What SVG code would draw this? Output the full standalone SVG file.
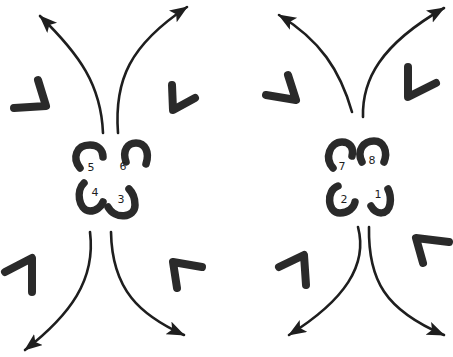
<svg xmlns="http://www.w3.org/2000/svg" width="453" height="357" viewBox="0 0 453 357">
<style>
.arr{fill:none;stroke:#1e1e1e;stroke-width:2.6;stroke-linecap:round;marker-end:url(#ah)}
.chev{fill:none;stroke:#2a2a2a;stroke-width:8;stroke-linecap:round;stroke-linejoin:round}
.sym{fill:none;stroke:#2a2a2a;stroke-width:7.5;stroke-linecap:round}
.lbl{font-family:"DejaVu Sans",sans-serif;font-size:11px;fill:#1e1e1e;text-anchor:middle}
</style>
<defs>
<marker id="ah" markerUnits="userSpaceOnUse" markerWidth="20" markerHeight="16" refX="17" refY="7" orient="auto">
<path d="M0,0 L18,7 L0,14 L4,7 z" fill="#1e1e1e"/>
</marker>
</defs>
<rect width="453" height="357" fill="#fff"/>
<g id="connectors">
<path class="arr" d="M103 133 C101 85 80 55 40 16"/>
<path class="arr" d="M118 133 C114 80 130 45 187 7"/>
<path class="arr" d="M90 232 C96 280 70 315 25 350"/>
<path class="arr" d="M111 232 C112 290 140 315 184 335"/>
<path class="arr" d="M352 112 C340 70 320 40 279 15"/>
<path class="arr" d="M363 117 C362 80 380 45 444 8"/>
<path class="arr" d="M358 227 C368 265 345 300 289 335"/>
<path class="arr" d="M369 227 C368 280 385 310 444 335"/>
</g>
<g id="chevrons">
<path class="chev" d="M38 80 L46 106 L14 108"/>
<path class="chev" d="M172 85 L173 110 L195 98"/>
<path class="chev" d="M5 272 L32 258 L32 292"/>
<path class="chev" d="M177 288 L173 262 L202 267"/>
<path class="chev" d="M288 75 L296 100 L266 95"/>
<path class="chev" d="M408 67 L408 97 L436 83"/>
<path class="chev" d="M279 267 L304 255 L306 285"/>
<path class="chev" d="M423 263 L416 238 L449 242"/>
</g>
<g id="n5"><path class="sym" d="M80 168 C72 158 76 145 90 145 C98 145 103 150 103 157"/><text class="lbl" x="91" y="171">5</text></g>
<g id="n6"><path class="sym" d="M126 162 C122 150 128 143 136 143 C145 143 150 152 146 164"/><text class="lbl" x="123" y="170">6</text></g>
<g id="n4"><path class="sym" d="M84 183 C76 190 78 210 90 211 C96 211 101 207 103 202"/><text class="lbl" x="95" y="196">4</text></g>
<g id="n3"><path class="sym" d="M108 207 C115 220 135 218 135 205 C135 197 132 192 129 189"/><text class="lbl" x="121" y="203">3</text></g>
<g id="n7"><path class="sym" d="M333 168 C324 158 330 142 342 142 C350 142 354 148 352 156"/><text class="lbl" x="342" y="170">7</text></g>
<g id="n8"><path class="sym" d="M362 162 C356 150 364 141 374 141 C384 141 388 152 384 162"/><text class="lbl" x="372" y="164">8</text></g>
<g id="n2"><path class="sym" d="M338 186 C326 190 327 213 340 213 C348 213 354 208 355 202"/><text class="lbl" x="344" y="203">2</text></g>
<g id="n1"><path class="sym" d="M371 206 C376 215 388 216 390 204 C391 198 390 193 388 189"/><text class="lbl" x="378" y="198">1</text></g>
</svg>
